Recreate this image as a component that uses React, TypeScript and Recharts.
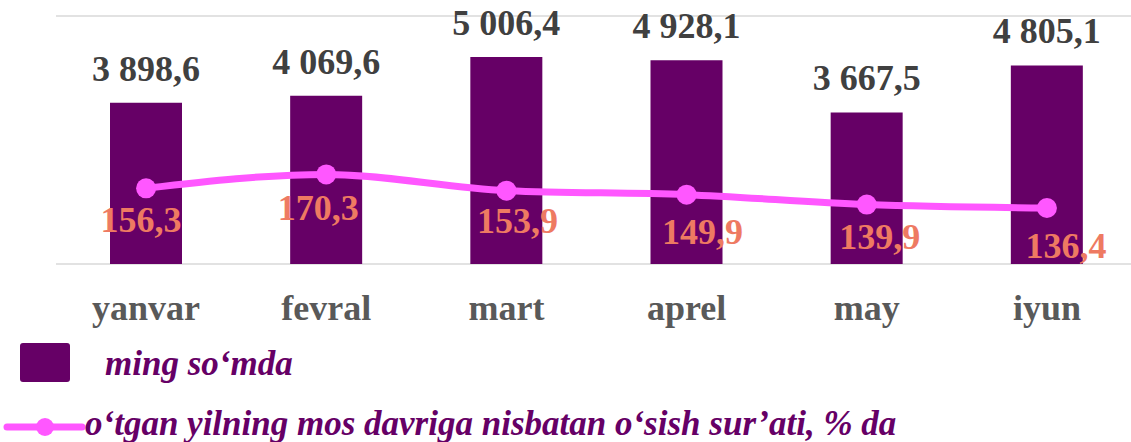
import React from 'react';
import { ComposedChart, Bar, Line, XAxis, YAxis, CartesianGrid, LabelList } from 'recharts';

const MONTHS = ['yanvar', 'fevral', 'mart', 'aprel', 'may', 'iyun'];
const AMOUNT = [3898.6, 4069.6, 5006.4, 4928.1, 3667.5, 4805.1];
const GROWTH = [156.3, 170.3, 153.9, 149.9, 139.9, 136.4];
const AMOUNT_TICKS = [0, 2000, 4000, 6000];

const BAR_LABEL = "ming so\u2018mda";
const LINE_LABEL = "o\u2018tgan yilning mos davriga nisbatan o\u2018sish sur\u2019ati, % da";

// hand-placed label nudges from the source (Excel moved them a bit)
const GROWTH_LABEL_NUDGE: [number, number][] = [[-5, 0], [-8, 2], [11, -1], [16, 6], [13, 1], [19, 6]];

const PURPLE = '#660066';
const PINK = '#FF57FF';
const SALMON = '#EE7A62';
const INK = '#404040';
const AXIS_INK = '#595959';
const GRID = '#d9d9d9';
const FONT = 'Liberation Serif';

const fmt = (v: number) => {
    const [i, d] = v.toFixed(1).split('.');
    return i.replace(/\B(?=(\d{3})+(?!\d))/g, ' ') + ',' + d;
};

const data = MONTHS.map((m, i) => ({ month: m, amount: AMOUNT[i], growth: GROWTH[i] }));

const GrowthLabel = (props: any) => {
    const { x, y, index, value } = props;
    const [dx, dy] = GROWTH_LABEL_NUDGE[index] || [0, 0];
    return (
        <text x={x + dx} y={y + 18 + dy} dy="0.71em" textAnchor="middle" fill={SALMON}
            fontSize={36} fontWeight="bold" fontFamily={FONT}>{fmt(value)}</text>
    );
};

export default function App() {
    return (
        <div style={{ position: 'absolute', left: 0, top: 0, width: 1131, height: 442, overflow: 'hidden', background: '#fff', fontFamily: FONT }}>
            <ComposedChart width={1140} height={442} data={data} margin={{ top: 16, right: 3, left: 56, bottom: 118 }}>
                <CartesianGrid stroke={GRID} strokeWidth={1.5} vertical={false} />
                <XAxis dataKey="month" height={60} axisLine={false} tickLine={false} tickMargin={24}
                    tick={{ fontSize: 36, fontWeight: 'bold', fill: AXIS_INK, fontFamily: FONT }} interval={0} />
                <YAxis yAxisId="amt" hide domain={[0, 6000]} ticks={AMOUNT_TICKS} />
                <YAxis yAxisId="pct" hide orientation="right" domain={[80, 330]} />
                <Bar yAxisId="amt" dataKey="amount" fill={PURPLE} barSize={72} isAnimationActive={false}>
                    <LabelList dataKey="amount" position="top" offset={22} formatter={(v: any) => fmt(Number(v))}
                        fontSize={36} fontWeight="bold" fill={INK} fontFamily={FONT} />
                </Bar>
                <Line yAxisId="pct" dataKey="growth" type="monotone" stroke={PINK} strokeWidth={7}
                    dot={{ r: 10, fill: PINK, stroke: 'none' }} activeDot={false} isAnimationActive={false}>
                    <LabelList dataKey="growth" content={GrowthLabel} />
                </Line>
            </ComposedChart>
            <svg width={1131} height={112} style={{ position: 'absolute', left: 0, top: 330 }}>
                <rect x={20} y={13} width={50} height={39} rx={3} fill={PURPLE} />
                <text x={105} y={45} fontSize={35} fontWeight="bold" fontStyle="italic" fill={PURPLE} fontFamily={FONT}>{BAR_LABEL}</text>
                <line x1={7} y1={97} x2={82} y2={97} stroke={PINK} strokeWidth={7} strokeLinecap="round" />
                <circle cx={45} cy={97} r={9} fill={PINK} />
                <text x={85} y={105} fontSize={35} fontWeight="bold" fontStyle="italic" fill={PURPLE} fontFamily={FONT}>{LINE_LABEL}</text>
            </svg>
        </div>
    );
}
